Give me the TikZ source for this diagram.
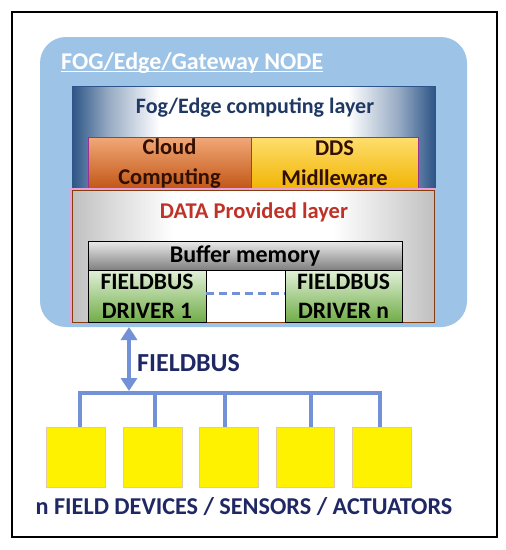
\documentclass[tikz,border=0pt]{standalone}
\usepackage{fontspec}
\setmainfont{Carlito}
\usetikzlibrary{arrows.meta,calc}
\definecolor{gwblue}{RGB}{157,195,230}
\definecolor{fogedge}{RGB}{45,85,135}
\definecolor{fogtext}{RGB}{31,56,100}
\definecolor{cloudtop}{RGB}{242,168,120}
\definecolor{cloudbot}{RGB}{192,85,20}
\definecolor{ddstop}{RGB}{255,222,110}
\definecolor{ddsbot}{RGB}{240,180,0}
\definecolor{purpleedge}{RGB}{150,50,150}
\definecolor{brownedge}{RGB}{132,60,12}
\definecolor{datatext}{RGB}{192,50,40}
\definecolor{darkbrown}{RGB}{50,15,0}
\definecolor{greentop}{RGB}{226,240,217}
\definecolor{greenbot}{RGB}{112,173,71}
\definecolor{busblue}{RGB}{115,145,215}
\definecolor{navy}{RGB}{31,40,100}
\definecolor{pinkglow}{RGB}{230,160,220}
\definecolor{yedge}{RGB}{225,200,170}
\definecolor{datagray}{RGB}{192,192,192}
\pgfdeclarehorizontalshading{fogshade}{100bp}{color(0bp)=(fogedge); color(25bp)=(fogedge); color(30bp)=(fogedge!50!white); color(37bp)=(white); color(63bp)=(white); color(70bp)=(fogedge!50!white); color(75bp)=(fogedge); color(100bp)=(fogedge)}
\pgfdeclarehorizontalshading{datashade}{100bp}{color(0bp)=(datagray); color(25bp)=(datagray); color(31bp)=(datagray!55!white); color(39bp)=(white); color(61bp)=(white); color(69bp)=(datagray!55!white); color(75bp)=(datagray); color(100bp)=(datagray)}
\tikzset{
  box/.style={anchor=north west, inner sep=0pt, outer sep=0pt},
  txt/.style={font=\fontsize{#1}{#1}\selectfont\bfseries, inner sep=0pt},
  twoline/.style={align=center, font=\fontsize{22.5}{30}\selectfont\bfseries, inner sep=0pt},
  bus/.style={busblue, line width=4pt, line join=miter},
  dev/.style={box, fill=yellow, draw=yedge, line width=0.8pt, minimum width=59pt, minimum height=60pt},
  drv/.style={box, draw=black, line width=0.8pt, top color=greentop, bottom color=greenbot, minimum width=118pt, minimum height=52pt, align=center, font=\fontsize{23.5}{29}\selectfont\bfseries, text=black},
}
\begin{document}
\begin{tikzpicture}[x=1pt,y=-1pt]
\useasboundingbox (0,0) rectangle (506,550);
\fill[white] (0,0) rectangle (506,550);
\node[box, draw=black, line width=2.5pt, minimum width=485pt, minimum height=525pt] (frame) at (12,12) {};
% gateway node
\node[box, fill=gwblue, rounded corners=26pt, minimum width=427pt, minimum height=290pt] (gw) at (40,37) {};
\node[txt=24, text=white, anchor=base west] (title) at (61,69) {FOG/Edge/Gateway NODE};
\draw[white, line width=1.5pt] ([yshift=-2.5pt]title.base west) -- ([yshift=-2.5pt]title.base east);
% fog layer
\node[box, draw=fogedge, line width=1pt, shading=fogshade, minimum width=363pt, minimum height=106pt] (fog) at (72,86) {};
\node[txt=22, text=fogtext] (fogt) at (255,108) {Fog/Edge computing layer};
\node[box, draw=purpleedge, line width=1pt, top color=cloudtop, bottom color=cloudbot, minimum width=163pt, minimum height=53pt, twoline, text=darkbrown] (cloud) at (88,137) {Cloud\\Computing};
\node[box, draw=purpleedge, line width=1pt, top color=ddstop, bottom color=ddsbot, minimum width=167pt, minimum height=53pt, twoline, text=darkbrown] (dds) at (251,137) {DDS\\Midlleware};
% data provided layer
\draw[pinkglow, line width=2.5pt] (71,189) rectangle (435,323);
\node[box, draw=brownedge, line width=0.8pt, shading=datashade, minimum width=362pt, minimum height=132pt] (data) at (72,190) {};
\node[txt=22.5, text=datatext] (datat) at (254,212) {DATA Provided layer};
\node[box, draw=black, line width=0.8pt, top color=black!8, bottom color=black!50, minimum width=314pt, minimum height=29pt] (buf) at (88,241) {};
\node[txt=24, text=black] (buft) at (buf.center) {Buffer memory};
\node[drv] (d1) at (88,270) {FIELDBUS\\DRIVER 1};
\node[drv, minimum width=117pt] (dn) at (285,270) {FIELDBUS\\DRIVER n};
\draw[busblue, line width=3pt, dash pattern=on 8pt off 5pt] ([yshift=3pt]d1.east) -- ([yshift=3pt]dn.west);
% field devices
\node[dev] (b1) at (46,427) {};
\node[dev] (b2) at (123,427) {};
\node[dev] (b3) at (199,427) {};
\node[dev, minimum width=58pt] (b4) at (276,427) {};
\node[dev] (b5) at (352,427) {};
\coordinate (bustop) at (129,393);
\draw[bus] ([xshift=4pt]b1.north) |- ([xshift=-1.5pt]b5.north |- bustop) -- ([xshift=-1.5pt]b5.north);
\draw[bus] ([xshift=2.5pt]b2.north) -- ([xshift=2.5pt]b2.north |- bustop);
\draw[bus] ([xshift=-3.5pt]b3.north) -- ([xshift=-3.5pt]b3.north |- bustop);
\draw[bus] ([xshift=6pt]b4.north) -- ([xshift=6pt]b4.north |- bustop);
\draw[busblue, line width=4pt, {Triangle[width=16pt,length=13pt]}-{Triangle[width=16pt,length=13pt]}] (bustop |- gw.south) -- ([yshift=2pt]bustop);
\node[txt=26, text=navy, anchor=west] (fbus) at (137,363) {FIELDBUS};
\node[txt=24.2, text=navy] (devt) at (244,507) {n FIELD DEVICES / SENSORS / ACTUATORS};
\end{tikzpicture}
\end{document}
